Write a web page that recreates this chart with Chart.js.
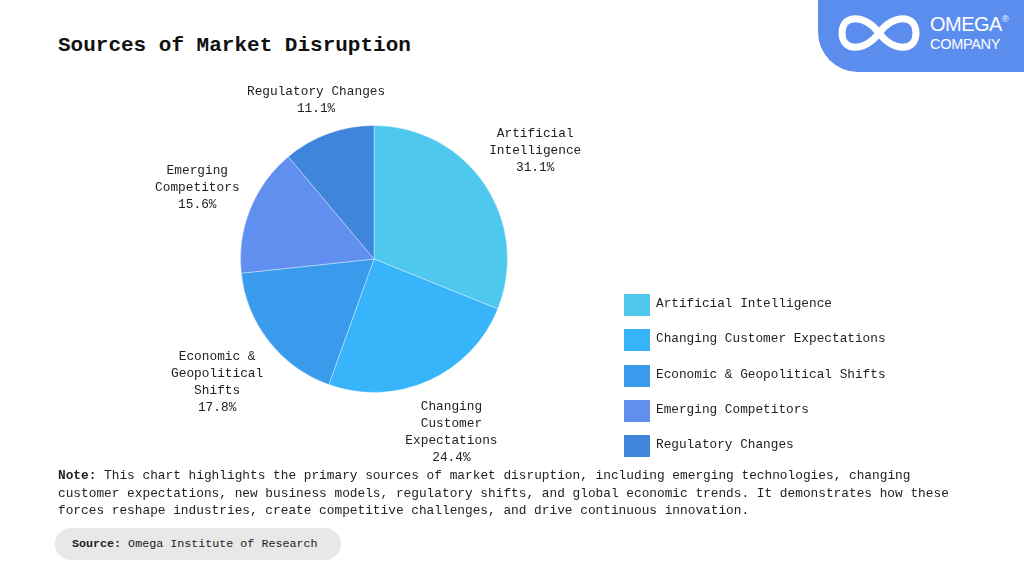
<!DOCTYPE html>
<html>
<head>
<meta charset="utf-8">
<script src="https://cdn.jsdelivr.net/npm/chart.js@4.4.1/dist/chart.umd.min.js"></script>
<style>
    body { margin: 0; width: 1024px; height: 576px; background: #fff; position: relative; overflow: hidden;
           font-family: "Liberation Mono", "DejaVu Sans Mono", monospace; color: #222; }
    #title { position: absolute; left: 58px; top: 34px; font-size: 21px; font-weight: bold; color: #111; }
    #logo { position: absolute; left: 818px; top: 0; width: 206px; height: 72px; background: #5b8def;
            border-bottom-left-radius: 40px; }
    #logo svg { position: absolute; left: 0; top: 0; }
    #logoName { position: absolute; left: 112px; top: 14px; font-family: "Liberation Sans", Arial, sans-serif;
                color: #fff; font-size: 20px; line-height: 20px; letter-spacing: -0.5px; }
    #logoName sup { font-size: 9px; vertical-align: top; line-height: 10px; }
    #logoSub { position: absolute; left: 112px; top: 36px; font-family: "Liberation Sans", Arial, sans-serif;
               color: #fff; font-size: 14.5px; letter-spacing: -0.3px; }
    #chartBox { position: absolute; left: 114px; top: 39px; width: 520px; height: 440px; }
    #legend { position: absolute; left: 624px; top: 294px; }
    .legendRow { height: 35.3px; position: relative; }
    .legendBox { position: absolute; left: 0; top: 0; width: 26px; height: 22px; }
    .legendText { position: absolute; left: 32px; top: 2px; font-size: 12.75px; white-space: nowrap; color: #222; }
    #note { position: absolute; left: 58px; top: 467px; width: 920px; font-size: 12.8px; line-height: 17.6px; color: #222; }
    #source { position: absolute; left: 55px; top: 528px; width: 286px; height: 32px; background: #e8e8e8;
              border-radius: 16px; font-size: 11.7px; line-height: 32px; color: #222; }
    #source span.in { position: absolute; left: 17px; }
</style>
</head>
<body>
<div id="title">Sources of Market Disruption</div>
<div id="logo">
    <svg width="206" height="72">
        <path d="M 61 33 C 75 14, 98 14, 98 33 C 98 52, 75 52, 61 33 C 47 14, 24 14, 24 33 C 24 52, 47 52, 61 33 Z"
              fill="none" stroke="#fff" stroke-width="7"/>
    </svg>
    <div id="logoName">OMEGA<sup>®</sup></div>
    <div id="logoSub">COMPANY</div>
</div>
<div id="chartBox"><canvas id="pieChart"></canvas></div>
<div id="legend"></div>
<div id="note"><b>Note:</b> This chart highlights the primary sources of market disruption, including emerging technologies, changing customer expectations, new business models, regulatory shifts, and global economic trends. It demonstrates how these forces reshape industries, create competitive challenges, and drive continuous innovation.</div>
<div id="source"><span class="in"><b>Source:</b> Omega Institute of Research</span></div>

<script>
var categories = ['Artificial Intelligence', 'Changing Customer Expectations', 'Economic & Geopolitical Shifts', 'Emerging Competitors', 'Regulatory Changes'];
var labelLines = [['Artificial', 'Intelligence'], ['Changing', 'Customer', 'Expectations'], ['Economic &', 'Geopolitical', 'Shifts'], ['Emerging', 'Competitors'], ['Regulatory Changes']];
var shares = [31.1, 24.4, 17.8, 15.6, 11.1];
var colors = ['#4ec9ed', '#38b4fb', '#3a9bed', '#618ff0', '#3f85db'];

// outside labels: push the text block out along the slice angle until it clears the pie
var outsideLabels = {
    id: 'outsideLabels',
    afterDatasetsDraw: function(chart) {
        var ctx = chart.ctx;
        var meta = chart.getDatasetMeta(0);
        ctx.save();
        ctx.font = '12.8px "Liberation Mono", "DejaVu Sans Mono", monospace';
        ctx.fillStyle = '#222';
        ctx.textAlign = 'center';
        ctx.textBaseline = 'middle';
        var lineH = 17;
        meta.data.forEach(function(arc, i) {
            var lines = labelLines[i].concat([shares[i].toFixed(1) + '%']);
            var w = 0;
            lines.forEach(function(l) { w = Math.max(w, ctx.measureText(l).width); });
            var h = lines.length * lineH;
            var angle = (arc.startAngle + arc.endAngle) / 2;
            var r = arc.outerRadius;
            var cx = arc.x, cy = arc.y;
            var d = r;
            var bx, by;
            for (; d < r + 200; d++) {
                bx = cx + Math.cos(angle) * d;
                by = cy + Math.sin(angle) * d;
                var nx = Math.max(bx - w / 2, Math.min(cx, bx + w / 2));
                var ny = Math.max(by - h / 2, Math.min(cy, by + h / 2));
                if (Math.hypot(nx - cx, ny - cy) >= r + 8) break;
            }
            lines.forEach(function(l, k) {
                ctx.fillText(l, bx, by - h / 2 + lineH * (k + 0.5));
            });
        });
        ctx.restore();
    }
};

document.addEventListener("DOMContentLoaded", function() {
    var legend = document.getElementById('legend');
    categories.forEach(function(name, i) {
        var row = document.createElement('div');
        row.className = 'legendRow';
        row.innerHTML = '<div class="legendBox" style="background:' + colors[i] + '"></div><div class="legendText"></div>';
        row.querySelector('.legendText').textContent = name;
        legend.appendChild(row);
    });

    var ctx = document.getElementById('pieChart').getContext('2d');
    new Chart(ctx, {
        type: 'pie',
        data: {
            labels: categories,
            datasets: [{
                data: shares,
                backgroundColor: colors,
                borderColor: 'rgba(255,255,255,0.35)',
                borderWidth: 1
            }]
        },
        options: {
            responsive: true,
            maintainAspectRatio: false,
            animation: false,
            layout: { padding: { top: 86, bottom: 86, left: 126, right: 126 } },
            plugins: {
                legend: { display: false },
                tooltip: { enabled: false }
            }
        },
        plugins: [outsideLabels]
    });
});
</script>
</body>
</html>
